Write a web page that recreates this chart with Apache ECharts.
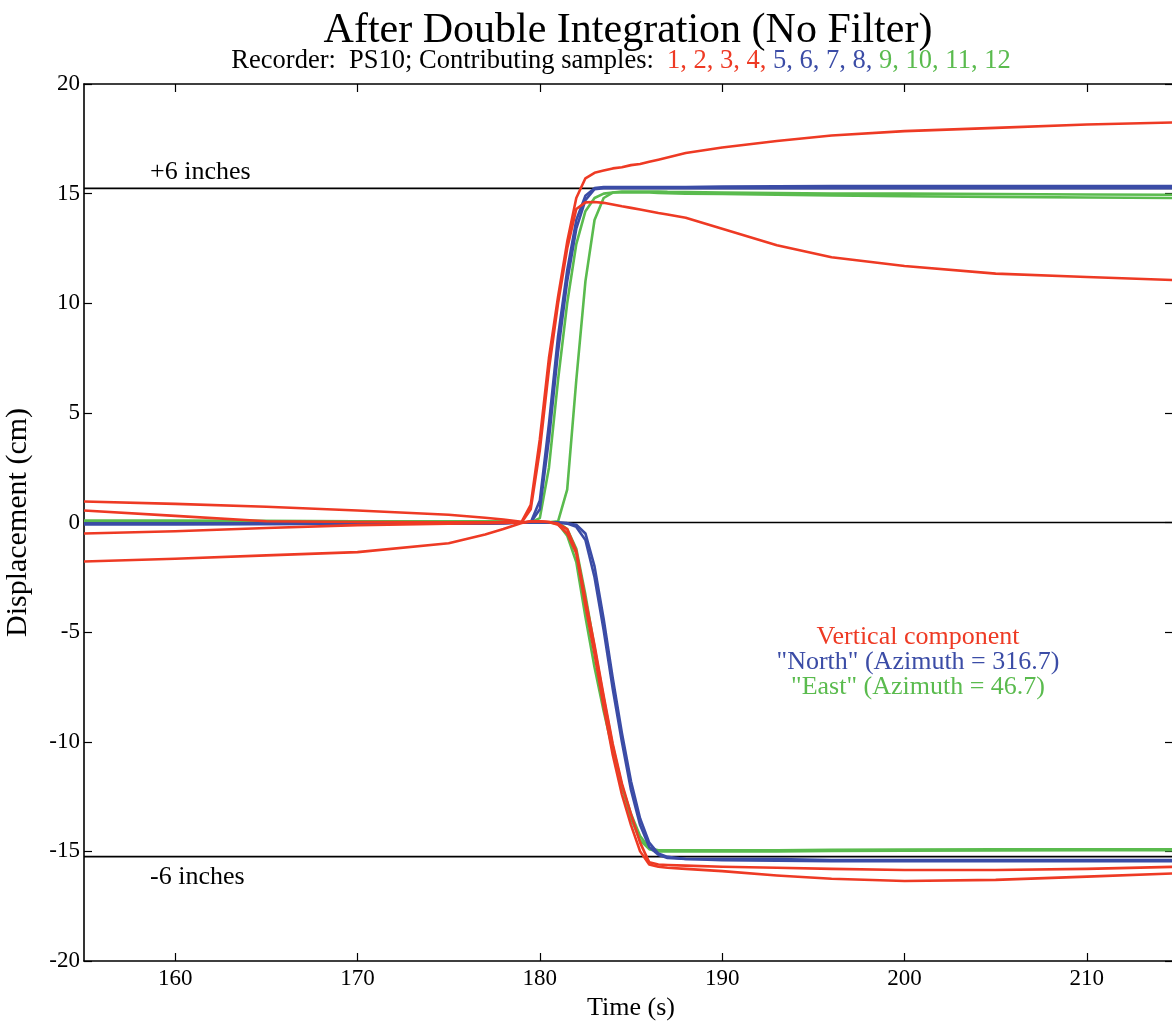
<!DOCTYPE html>
<html><head><meta charset="utf-8">
<script src="https://cdn.jsdelivr.net/npm/echarts@6/dist/echarts.min.js"></script>
<style>html,body{margin:0;padding:0;background:#fff}#c{width:1172px;height:1027px}</style>
</head><body><div id="c"></div>
<script>
// time samples (s)
const T = [155,160,165,170,175,177,178,179,179.5,180,180.5,181,181.5,182,182.5,183,183.5,184,184.5,185,185.5,186,186.5,187,188,190,193,196,200,205,210,215];
// Vertical component (red)
const R1 = [0.96,0.85,0.72,0.55,0.35,0.22,0.14,0.03,0.8,3.8,7.5,10.3,12.8,14.8,15.7,15.95,16.05,16.15,16.2,16.3,16.35,16.45,16.55,16.65,16.85,17.1,17.4,17.65,17.85,18.0,18.15,18.25];
const R2 = [0.55,0.3,0.06,0.02,0.01,0.01,0.01,0.0,0.6,3.3,7.0,10.0,12.5,14.3,14.6,14.62,14.58,14.5,14.42,14.35,14.28,14.2,14.12,14.05,13.9,13.4,12.65,12.1,11.7,11.35,11.2,11.05];
const R3 = [-0.5,-0.4,-0.25,-0.12,-0.05,-0.03,-0.02,0,0.05,0.05,0.02,-0.05,-0.3,-1.3,-3.5,-5.6,-7.9,-10.1,-11.9,-13.3,-14.6,-15.5,-15.6,-15.62,-15.65,-15.7,-15.75,-15.8,-15.85,-15.85,-15.8,-15.7];
const R4 = [-1.78,-1.65,-1.5,-1.35,-0.95,-0.55,-0.3,-0.02,0.05,0.05,0.02,-0.1,-0.5,-1.4,-3.8,-6.0,-8.4,-10.6,-12.4,-13.8,-15.0,-15.6,-15.7,-15.75,-15.8,-15.9,-16.1,-16.25,-16.35,-16.3,-16.15,-16.0];
// "North" (blue)
const B1 = [-0.05,-0.05,-0.05,-0.05,-0.04,-0.03,-0.02,0,0,1.0,4.5,8.5,11.5,13.8,14.9,15.25,15.3,15.3,15.3,15.3,15.3,15.3,15.3,15.3,15.3,15.32,15.33,15.34,15.35,15.35,15.35,15.35];
const B2 = [-0.08,-0.08,-0.07,-0.06,-0.05,-0.04,-0.03,0,0,0.6,3.8,7.8,11.0,13.4,14.7,15.2,15.25,15.25,15.25,15.25,15.25,15.25,15.25,15.25,15.25,15.25,15.25,15.25,15.25,15.25,15.25,15.25];
const B3 = [-0.05,-0.05,-0.05,-0.05,-0.04,-0.03,-0.02,0,0,0,0,0,-0.05,-0.2,-0.8,-2.5,-4.9,-7.6,-10.0,-12.2,-13.8,-14.8,-15.15,-15.3,-15.35,-15.35,-15.35,-15.4,-15.4,-15.4,-15.4,-15.4];
const B4 = [-0.08,-0.08,-0.07,-0.06,-0.05,-0.04,-0.03,0,0,0,0,0,-0.03,-0.1,-0.5,-2.0,-4.4,-7.1,-9.6,-11.8,-13.5,-14.6,-15.1,-15.25,-15.35,-15.4,-15.42,-15.45,-15.45,-15.45,-15.45,-15.45];
// "East" (green)
const G1 = [0.06,0.06,0.05,0.05,0.04,0.03,0.02,0,0,0.2,2.5,6.5,10.0,12.7,14.2,14.8,15.0,15.05,15.05,15.05,15.05,15.05,15.03,15.02,15.0,14.98,14.95,14.92,14.88,14.85,14.82,14.8];
const G2 = [0.08,0.08,0.07,0.06,0.05,0.04,0.03,0.01,0.01,0.01,0.01,0.05,1.5,6.5,11.0,13.8,14.8,15.05,15.1,15.1,15.1,15.1,15.1,15.08,15.07,15.05,15.03,15.0,15.0,14.98,14.96,14.95];
const G3 = [0.06,0.06,0.05,0.05,0.04,0.03,0.02,0,0,0,0,-0.05,-0.6,-1.8,-4.3,-6.6,-8.6,-10.4,-12.0,-13.3,-14.3,-14.85,-14.95,-14.95,-14.95,-14.95,-14.95,-14.93,-14.92,-14.9,-14.9,-14.9];
const G4 = [0.08,0.08,0.07,0.06,0.05,0.04,0.03,0.01,0.01,0,0,0,-0.3,-1.2,-3.3,-5.7,-8.0,-10.2,-12.0,-13.5,-14.5,-14.9,-15.0,-15.0,-15.0,-15.0,-15.0,-14.98,-14.97,-14.96,-14.95,-14.95];
const xTicks = [160,170,180,190,200,210];
const yTicks = [-20,-15,-10,-5,0,5,10,15,20];
const inchLevels = [15.24, 0, -15.24];

const RED = '#ee3a24', BLUE = '#3b4ca6', GREEN = '#5abb4e';
const FONT = '"Liberation Serif", "DejaVu Serif", serif';

function mk(name, vals, color, z) {
  return {name, type:'line', data: T.map((t,i)=>[t, vals[i]]), symbol:'none',
    smooth:false, lineStyle:{color, width:2.6, join:'round'}, z, silent:true, clip:true};
}
const series = [];
inchLevels.forEach(v => series.push({type:'line', data:[[155,v],[215,v]], symbol:'none',
  lineStyle:{color:'#000', width:1.6}, z:1, silent:true}));
[['G1',G1],['G2',G2],['G3',G3],['G4',G4]].forEach(([n,v])=>series.push(mk(n,v,GREEN,2)));
[['B1',B1],['B2',B2],['B3',B3],['B4',B4]].forEach(([n,v])=>series.push(mk(n,v,BLUE,3)));
[['R1',R1],['R2',R2],['R3',R3],['R4',R4]].forEach(([n,v])=>series.push(mk(n,v,RED,4)));

const chart = echarts.init(document.getElementById('c'));
const axisLineStyle = {color:'#000', width:1.6};
const tickStyle = {color:'#000', width:1.2};
chart.setOption({
  backgroundColor:'#ffffff',
  animation:false,
  grid:{left:84, top:84, right:-6, bottom:66, show:false, outerBoundsMode:'none', containLabel:false},
  xAxis:[
    {type:'value', min:155, max:215, position:'bottom',
     name:'Time (s)', nameLocation:'middle', nameGap:26,
     nameTextStyle:{fontFamily:FONT, fontSize:26, color:'#000'},
     axisLine:{show:true, onZero:false, lineStyle:axisLineStyle},
     axisTick:{show:true, inside:true, length:8, lineStyle:tickStyle, customValues:xTicks},
     axisLabel:{fontFamily:FONT, fontSize:23, color:'#000', margin:6, customValues:xTicks,
       formatter:v=> xTicks.includes(v)? String(v):''},
     splitLine:{show:false}},
    {type:'value', min:155, max:215, position:'top',
     axisLine:{show:true, onZero:false, lineStyle:axisLineStyle},
     axisTick:{show:true, inside:true, length:8, lineStyle:tickStyle, customValues:xTicks},
     axisLabel:{show:false}, splitLine:{show:false}}
  ],
  yAxis:[
    {type:'value', min:-20, max:20, interval:5, position:'left',
     name:'Displacement (cm)', nameLocation:'middle', nameGap:51,
     nameTextStyle:{fontFamily:FONT, fontSize:30, color:'#000'},
     axisLine:{show:true, onZero:false, lineStyle:axisLineStyle},
     axisTick:{show:true, inside:true, length:8, lineStyle:tickStyle},
     axisLabel:{fontFamily:FONT, fontSize:23, color:'#000', margin:4,
       formatter:v=> yTicks.includes(v)? String(v):''},
     splitLine:{show:false}},
    {type:'value', min:-20, max:20, interval:5, position:'right',
     axisLine:{show:false},
     axisTick:{show:true, inside:true, length:13, lineStyle:tickStyle},
     axisLabel:{show:false}, splitLine:{show:false}}
  ],
  graphic:[
    {type:'text', x:628, y:31, style:{text:'After Double Integration (No Filter)', font:'42px '+FONT, fill:'#000', textAlign:'center', textVerticalAlign:'middle'}},
    {type:'text', x:621, y:61, style:{
      text:'{k|Recorder:  PS10; Contributing samples:  }{r|1, 2, 3, 4, }{b|5, 6, 7, 8, }{g|9, 10, 11, 12}',
      font:'26.5px '+FONT, textAlign:'center', textVerticalAlign:'middle',
      rich:{k:{fill:'#000', font:'26.5px '+FONT},r:{fill:RED, font:'26.5px '+FONT},b:{fill:BLUE, font:'26.5px '+FONT},g:{fill:GREEN, font:'26.5px '+FONT}}}},
    {type:'text', x:150, y:172, style:{text:'+6 inches', font:'26px '+FONT, fill:'#000', textVerticalAlign:'middle'}},
    {type:'text', x:150, y:877, style:{text:'-6 inches', font:'26px '+FONT, fill:'#000', textVerticalAlign:'middle'}},
    {type:'text', x:918, y:637, style:{text:'Vertical component', font:'26px '+FONT, fill:RED, textAlign:'center', textVerticalAlign:'middle'}},
    {type:'text', x:918, y:662, style:{text:'"North" (Azimuth = 316.7)', font:'26px '+FONT, fill:BLUE, textAlign:'center', textVerticalAlign:'middle'}},
    {type:'text', x:918, y:687, style:{text:'"East" (Azimuth = 46.7)', font:'26px '+FONT, fill:GREEN, textAlign:'center', textVerticalAlign:'middle'}}
  ],
  series
});
</script></body></html>
